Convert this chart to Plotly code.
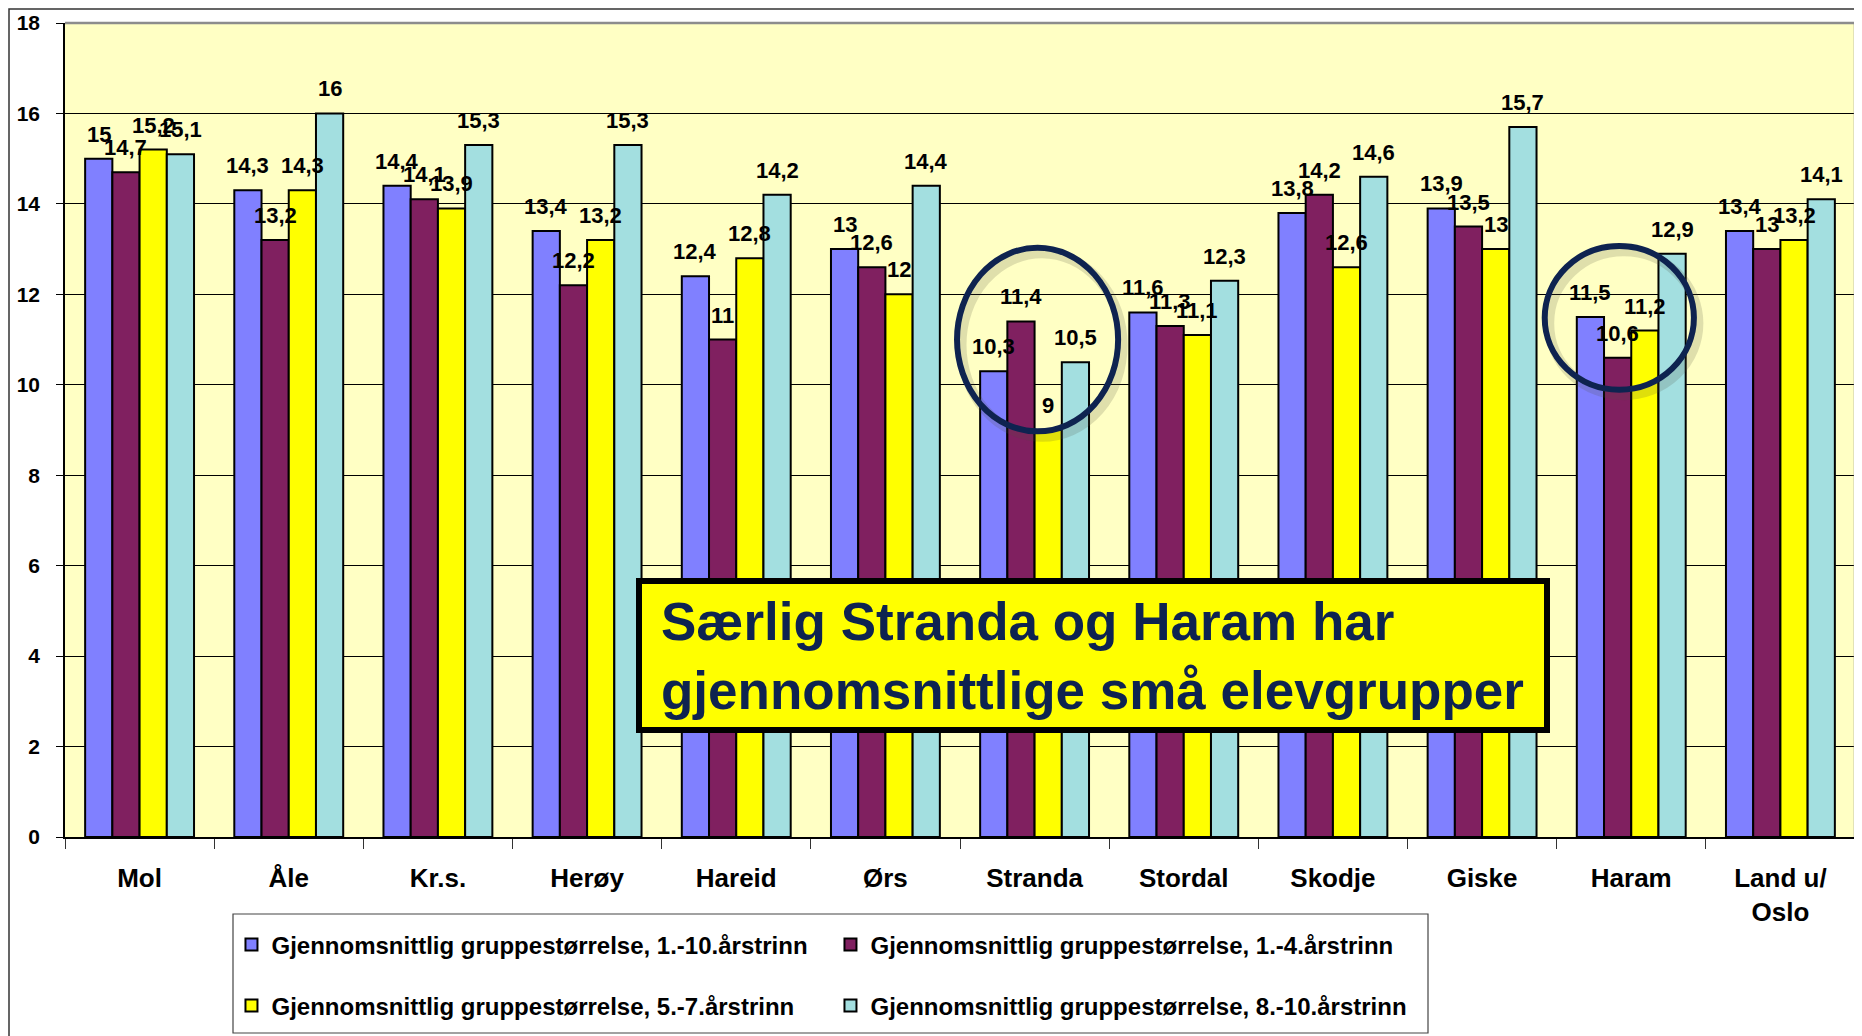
import plotly.graph_objects as go

# ---------------------------------------------------------------- data ---- #
kommuner = ["Mol", "Åle", "Kr.s.", "Herøy", "Hareid", "Ørs", "Stranda",
            "Stordal", "Skodje", "Giske", "Haram", "Land u/ Oslo"]

trinn_1_10 = [15, 14.3, 14.4, 13.4, 12.4, 13, 10.3, 11.6, 13.8, 13.9, 11.5, 13.4]
trinn_1_4 = [14.7, 13.2, 14.1, 12.2, 11, 12.6, 11.4, 11.3, 14.2, 13.5, 10.6, 13]
trinn_5_7 = [15.2, 14.3, 13.9, 13.2, 12.8, 12, 9, 11.1, 12.6, 13, 11.2, 13.2]
trinn_8_10 = [15.1, 16, 15.3, 15.3, 14.2, 14.4, 10.5, 12.3, 14.6, 15.7, 12.9, 14.1]

serie_navn = [
    "Gjennomsnittlig gruppestørrelse, 1.-10.årstrinn",
    "Gjennomsnittlig gruppestørrelse, 1.-4.årstrinn",
    "Gjennomsnittlig gruppestørrelse, 5.-7.årstrinn",
    "Gjennomsnittlig gruppestørrelse, 8.-10.årstrinn",
]
serie_farge = ["#8080FF", "#802060", "#FFFF00", "#A3DFE0"]

tick_y = [0, 2, 4, 6, 8, 10, 12, 14, 16, 18]

FONT = "Liberation Sans, Arial, sans-serif"
NAVY = "#0E2350"

# the page body adds an 8 px offset, so the figure is 8 px smaller
# and screen positions S map to figure positions S - 8
OFF = 8
W, H = 1862 - OFF, 1036 - OFF
ML, MR, MT, MB = 65 - OFF, 7, 23 - OFF, 199
PW, PH = W - ML - MR, H - MT - MB
BARGAP = 0.27
BAR_PX = PW / len(kommuner) * (1 - BARGAP) / 4


def px_x(s):
    return (s - OFF - ML) / PW


def px_y(s):
    return (H - MB - (s - OFF)) / PH


def komma(v):
    return f"{v:g}".replace(".", ",")


fig = go.Figure()

# ------------------------------------------------------------- bars ------- #
serier = [trinn_1_10, trinn_1_4, trinn_5_7, trinn_8_10]
for i, (navn, verdier, farge) in enumerate(zip(serie_navn, serier, serie_farge)):
    fig.add_trace(go.Bar(
        x=kommuner,
        y=verdier,
        name=navn,
        marker=dict(color=farge, line=dict(color="black", width=2)),
        legend="legend" if i < 2 else "legend2",
        hoverinfo="skip",
    ))

# value labels drawn on top of all bars
for i, verdier in enumerate(serier):
    for k, v in zip(kommuner, verdier):
        fig.add_annotation(
            x=k, y=v, xref="x", yref="y",
            xshift=(i - 1.5) * BAR_PX, yshift=10,
            yanchor="bottom", showarrow=False,
            text=komma(v),
            font=dict(family=FONT, size=22, color="black", weight="bold"),
        )

# ---------------------------------------------------------- layout -------- #
legend_style = dict(
    orientation="h",
    xanchor="left", yanchor="middle",
    x=0.093,
    bgcolor="rgba(0,0,0,0)",
    entrywidth=554,
    font=dict(family=FONT, size=24, color="black", weight="bold"),
)

fig.update_layout(
    width=W, height=H,
    margin=dict(l=ML, r=MR, t=MT, b=MB),
    paper_bgcolor="white",
    plot_bgcolor="#FFFFC4",
    barmode="group",
    bargap=BARGAP,
    bargroupgap=0,
    legend=dict(legend_style, y=px_y(945)),
    legend2=dict(legend_style, y=px_y(1006)),
    xaxis=dict(
        tickvals=kommuner,
        ticktext=[k.replace("u/ ", "u/<br>") for k in kommuner],
        tickson="boundaries",
        ticks="outside", ticklen=10, tickcolor="#333",
        showline=True, linecolor="black", linewidth=1.5,
        tickfont=dict(family=FONT, size=26, color="black", weight="bold"),
        ticklabelstandoff=17,
        automargin=False,
    ),
    yaxis=dict(
        range=[0, 18],
        tickvals=tick_y,
        ticks="outside", ticklen=7, tickcolor="black",
        showline=True, linecolor="black", linewidth=1.5,
        showgrid=True, gridcolor="black", gridwidth=1,
        zeroline=False,
        tickfont=dict(family=FONT, size=21, color="black", weight="bold"),
        ticklabelstandoff=12,
        automargin=False,
    ),
    showlegend=True,
)

# plot border (top and right), legend box, outer frame
fig.add_shape(type="path", xref="paper", yref="paper",
              path="M 0,1 L 1,1 L 1,0", line=dict(color="#8C8C8C", width=2.5))
fig.add_shape(type="rect", xref="paper", yref="paper",
              x0=px_x(233), x1=px_x(1428), y0=px_y(1033), y1=px_y(914),
              line=dict(color="#444", width=1.2), fillcolor="rgba(0,0,0,0)")
fig.add_shape(type="rect", xref="paper", yref="paper",
              x0=px_x(OFF + 1), x1=px_x(1875), y0=px_y(1050), y1=px_y(OFF + 1),
              line=dict(color="#333", width=1.5), fillcolor="rgba(0,0,0,0)")

# circles round Stranda and Haram (soft shadow first)
for cx, cy, rx, ry in [(6.02, 11.0, 0.54, 2.03), (9.92, 11.48, 0.50, 1.59)]:
    fig.add_shape(type="circle", xref="x", yref="y",
                  x0=cx - rx + 0.03, x1=cx + rx + 0.03,
                  y0=cy - ry - 0.12, y1=cy + ry - 0.12,
                  line=dict(color="rgba(80,80,60,0.18)", width=10))
    fig.add_shape(type="circle", xref="x", yref="y",
                  x0=cx - rx, x1=cx + rx, y0=cy - ry, y1=cy + ry,
                  line=dict(color=NAVY, width=6))

# yellow text box
fig.add_shape(type="rect", xref="paper", yref="paper",
              x0=px_x(639), x1=px_x(1547), y0=px_y(730), y1=px_y(581),
              line=dict(color="black", width=6), fillcolor="#FFFF00")
fig.add_annotation(
    xref="paper", yref="paper",
    x=px_x(659), y=px_y(655.5),
    xanchor="left", yanchor="middle", align="left",
    text="Særlig Stranda og Haram har<br>gjennomsnittlige små elevgrupper",
    showarrow=False,
    font=dict(family=FONT, size=53, color=NAVY, weight="bold"),
)

fig.write_html("out.html")
